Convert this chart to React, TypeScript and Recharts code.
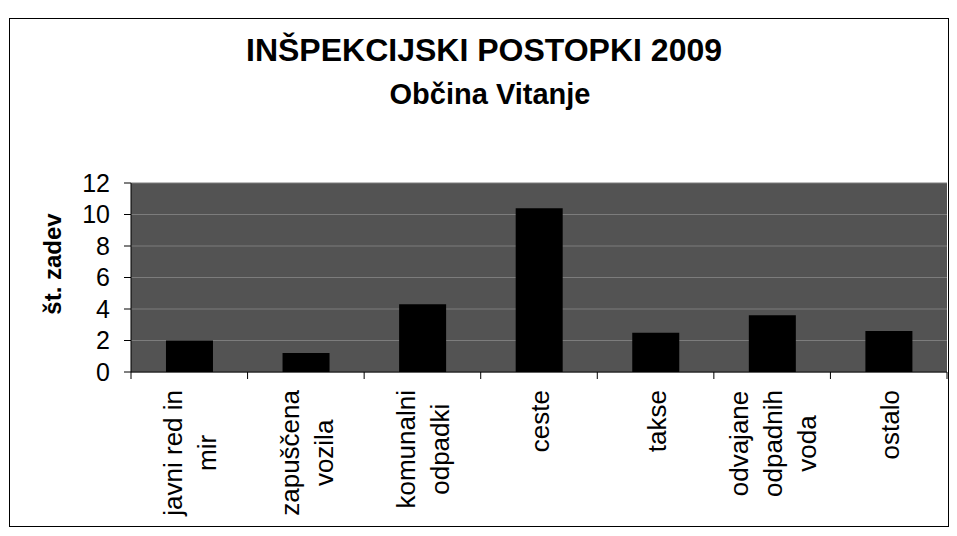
import React from 'react';
import { BarChart, Bar, XAxis, YAxis, CartesianGrid, Label } from 'recharts';

// kategorije in število zadev (odčitano s slike)
const categories = [
  'javni red in\nmir',
  'zapuščena\nvozila',
  'komunalni\nodpadki',
  'ceste',
  'takse',
  'odvajane\nodpadnih\nvoda',
  'ostalo'
];
const caseCounts = [2, 1.2, 4.3, 10.4, 2.5, 3.6, 2.6];
const yTicks = [0, 2, 4, 6, 8, 10, 12];

const chartData = categories.map((name, i) => ({ name, count: caseCounts[i] }));

const FONT = "Arial, 'Liberation Sans', sans-serif";
const PLOT_LEFT = 131;
const PLOT_RIGHT = 947;
const PLOT_TOP = 183;
const PLOT_BOTTOM = 372;
const LABEL_SIZE = 26;
const LINE_GAP = 34;

let measureCtx: CanvasRenderingContext2D | null = null;
function textWidth(s: string, font: string) {
  if (!measureCtx) measureCtx = document.createElement('canvas').getContext('2d');
  if (!measureCtx) return s.length * 13;
  measureCtx.font = font;
  return measureCtx.measureText(s).width;
}

function CategoryTick(props: any) {
  const { x, payload, index } = props;
  const lines = String(payload.value).split('\n');
  const maxW = Math.max(...lines.map((l) => textWidth(l, `${LABEL_SIZE}px 'Liberation Sans'`)));
  const top = PLOT_BOTTOM + 18;
  const cy = top + maxW / 2;
  const bw = (PLOT_RIGHT - PLOT_LEFT) / categories.length;
  return (
    <g>
      <line x1={x - bw / 2} x2={x - bw / 2} y1={PLOT_BOTTOM} y2={PLOT_BOTTOM + 7} stroke="#000" />
      {index === categories.length - 1 && (
        <line x1={x + bw / 2} x2={x + bw / 2} y1={PLOT_BOTTOM} y2={PLOT_BOTTOM + 7} stroke="#000" />
      )}
      {lines.map((l, i) => {
        const lx = x + (i - (lines.length - 1) / 2) * LINE_GAP + 10;
        return (
          <text
            key={i}
            transform={`translate(${lx},${cy}) rotate(-90)`}
            textAnchor="middle"
            fontSize={LABEL_SIZE}
            fontFamily={FONT}
            fill="#000"
          >
            {l}
          </text>
        );
      })}
    </g>
  );
}

export default function App() {
  return (
    <div style={{ position: 'relative', width: 957, height: 536, margin: '-8px 0 0 -8px', background: '#fff' }}>
      <div
        style={{
          position: 'absolute',
          left: 0,
          width: 968,
          top: 30,
          textAlign: 'center',
          fontFamily: FONT,
          fontWeight: 'bold',
          fontSize: 32,
          lineHeight: '40px'
        }}
      >
        INŠPEKCIJSKI POSTOPKI 2009
      </div>
      <div
        style={{
          position: 'absolute',
          left: 0,
          width: 980,
          top: 76,
          textAlign: 'center',
          fontFamily: FONT,
          fontWeight: 'bold',
          fontSize: 29,
          lineHeight: '36px'
        }}
      >
        Občina Vitanje
      </div>
      <div style={{ position: 'absolute', left: 0, top: 0 }}>
        <BarChart
          width={957}
          height={536}
          data={chartData}
          margin={{ top: PLOT_TOP, right: 957 - PLOT_RIGHT, bottom: 0, left: 0 }}
          barCategoryGap="30%"
        >
          <CartesianGrid
            vertical={false}
            fill="#535353"
            stroke="#7c7c7c"
            fillOpacity={1}
          />
          <XAxis
            dataKey="name"
            interval={0}
            axisLine={{ stroke: '#000' }}
            tickLine={false}
            tick={<CategoryTick />}
            height={536 - PLOT_BOTTOM}
          />
          <YAxis
            width={PLOT_LEFT}
            domain={[0, 12]}
            ticks={yTicks}
            interval={0}
            axisLine={{ stroke: '#000' }}
            tickLine={{ stroke: '#000' }}
            tickSize={7}
            tickMargin={14}
            tick={{ fill: '#000', fontSize: 25, fontFamily: FONT }}
          >
            <Label
              content={() => (
                <text
                  transform="translate(61,264) rotate(-90)"
                  textAnchor="middle"
                  fontSize={24}
                  fontWeight="bold"
                  fontFamily={FONT}
                  fill="#000"
                >
                  št. zadev
                </text>
              )}
            />
          </YAxis>
          <Bar dataKey="count" fill="#000" isAnimationActive={false} />
        </BarChart>
      </div>
      <div
        style={{
          position: 'absolute',
          left: 9,
          top: 18,
          width: 938,
          height: 507,
          border: '1px solid #000',
          pointerEvents: 'none'
        }}
      />
    </div>
  );
}
